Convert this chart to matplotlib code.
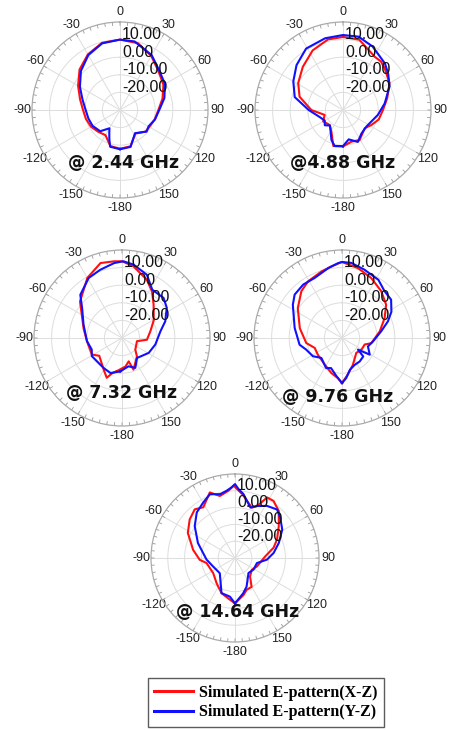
import numpy as np
import matplotlib
matplotlib.use('Agg')
import matplotlib.pyplot as plt
from matplotlib.lines import Line2D

W, H = 454, 730

# gain (dB), angle in degrees (0 = top, clockwise)
xz_244_ang = [-180, -165, -150, -135, -120, -105, -90, -75, -60, -45, -30, -15, 0, 15, 30, 45, 60, 75, 90, 105, 120, 130, 147, 164]
xz_244_db = [-8, -8.8, -13.5, -12.5, -11, -10, -9, -6.5, -2.5, 2.5, 6.5, 9.5, 10, 9.3, 5.5, 1, -1.5, -5, -8.2, -9.5, -10.8, -11, -14, -8.5]
yz_244_ang = [-180, -165, -160, -155, -150, -137, -120, -105, -90, -75, -60, -45, -30, -15, 0, 12, 30, 45, 60, 75, 90, 105, 120, 129, 147, 164]
yz_244_db = [-7.7, -8.4, -12.3, -15.6, -18, -13.5, -12, -11.4, -10.5, -8, -3.7, 1.4, 6, 9.2, 10, 9.8, 6, 1.6, -0.5, -3.9, -7.7, -9.4, -11.3, -10.5, -14.3, -8.2]

xz_488_ang = [-180, -165, -152, -138, -120, -105, -90, -73, -59, -43, -27, -12, 0, 13, 31, 38, 45, 60, 75, 90, 105, 118, 130, 151, 165]
xz_488_db = [-9.3, -8.8, -16, -18.6, -17, -19.2, -12, -4.2, -0.3, 3.5, 8, 11, 11.5, 11, 5.2, 5.0, 3.5, 0.5, -4, -7.3, -9, -11.8, -13.9, -10.5, -11.4]
yz_488_ang = [-180, -167, -159, -140, -130, -120, -106, -90, -75, -60, -46, -31, -14, 0, 12, 25, 42, 51, 63, 81, 98, 125, 142, 155, 169]
yz_488_db = [-9.5, -9, -11.7, -18.5, -16.5, -18, -16, -10.5, -1.6, 2.6, 6.7, 10.7, 12, 12.6, 12.6, 9.8, 5.6, 3, -0.3, -6, -10, -13.7, -13, -10, -13]

xz_732_ang = [-171, -165, -159, -150, -128, -119, -95, -76, -49, -30, -16, -6, 0, 9, 23, 33, 43.5, 61, 77, 94, 102, 131, 141, 160, 164, 173]
xz_732_db = [-10.9, -9.5, -5.8, -9.2, -13.6, -10.5, -10, -7.5, 1.6, 9.4, 14.3, 13.8, 13.6, 11.3, 6, 1.4, -3.9, -9.4, -13.5, -15.8, -21.3, -20, -16.5, -10.9, -16.2, -13.7]
yz_732_ang = [-177, -162, -149, -121, -111, -95, -71, -53, -44, -29, -17.6, -6, 1, 9, 21.5, 32, 46, 56, 69, 80, 101, 119, 143, 156, 167]
yz_732_db = [-11, -9, -10, -10, -11.6, -10, -6.9, -1.6, 4.1, 9, 10.7, 12.8, 13.6, 12.2, 8.6, 2.4, 2.8, 0.7, -3.7, -7.8, -10.7, -12.6, -15.8, -11.4, -13.5]

xz_976_ang = [-180, -174, -163, -147, -125, -110, -98, -77, -56, -41, -31, -17, -8.5, 0, 13, 26, 40, 53, 65, 80, 100, 106, 121, 136, 158, 171]
xz_976_db = [-4.4, -7.1, -9.2, -12, -13.3, -13.5, -9.5, -5.4, 0.3, 5.2, 7.5, 9.6, 11.1, 13.2, 10.7, 7.9, 4.7, 1.4, -3.3, -8.2, -13.1, -16.6, -17.1, -18.3, -13.5, -9]
yz_976_ang = [-180, -172, -160, -152, -134, -122, -108, -99, -78, -56, -47.5, -36, -24.5, -11, -3, 0, 7, 18, 32, 42, 52, 62, 70, 80, 96, 108, 121, 126, 131, 143, 155, 166, 174]
yz_976_db = [-4.4, -8, -11.8, -10.7, -13.7, -10.5, -8.6, -5.6, -2.5, 3.7, 6.5, 7.5, 7.5, 10.5, 12.6, 13.2, 13, 10.9, 9, 6, 5.4, 1.8, -2.2, -7.3, -12.2, -14.5, -11.6, -18.8, -14, -13.3, -13.1, -11.4, -7.1]

xz_1464_ang = [-180, -170.5, -159, -144, -125, -100, -93, -79, -62, -49.6, -39.6, -32, -21, -13.7, -5.7, -1, 7, 18.4, 23, 28, 34, 43, 54, 66, 75, 87, 111, 125, 141, 150, 160, 167]
xz_1464_db = [-3, -5.6, -7.6, -11.4, -14.2, -12.8, -9, -4.6, 1.8, 5.4, 7.6, 5.6, 11.8, 8, 10.2, 13, 8, 1.6, 3.6, 10.8, 11, 8.2, 2.2, -2.6, -6.2, -12, -16, -17.8, -15.8, -10.2, -9.8, -7.4]
yz_1464_ang = [-180, -172.5, -159, -135, -111, -93, -68, -51.6, -40, -30, -21.5, -13, -7, -3, 0, 3, 7.5, 17, 23, 31.5, 41, 48, 59, 71, 82.5, 93, 103, 122, 138, 158, 167]
yz_1464_db = [-3, -6.8, -7.6, -17.2, -16, -13, -6.2, 0.6, 5.4, 8, 10.8, 9, 10.4, 12, 14, 11, 8.4, 1.4, 3.6, 6.4, 8.2, 6.2, 2.8, -2.4, -6.8, -11, -16.6, -17, -18, -11.6, -8.4]

freq_labels = ['@ 2.44 GHz', '@4.88 GHz', '@ 7.32 GHz', '@ 9.76 GHz', '@ 14.64 GHz']
ring_values = [10, 0, -10, -20]
ring_labels = ['10.00', '0.00', '-10.00', '-20.00']
theta_ticks = [0, 30, 60, 90, 120, 150, 180, 210, 240, 270, 300, 330]
theta_labels = ['0', '30', '60', '90', '120', '150', '-180', '-150', '-120', '-90', '-60', '-30']

patterns = [
    (xz_244_ang, xz_244_db, yz_244_ang, yz_244_db),
    (xz_488_ang, xz_488_db, yz_488_ang, yz_488_db),
    (xz_732_ang, xz_732_db, yz_732_ang, yz_732_db),
    (xz_976_ang, xz_976_db, yz_976_ang, yz_976_db),
    (xz_1464_ang, xz_1464_db, yz_1464_ang, yz_1464_db),
]

# pixel centre, radius of each polar plot and position of its frequency text
layout = [
    ((120, 110), 88, (124, 163)),
    ((343, 110), 88, (343, 163)),
    ((122, 338), 88, (122, 393)),
    ((342, 338), 88, (338, 397)),
    ((235, 558), 84, (238, 612)),
]


def closed(ang, db):
    a = np.deg2rad(np.r_[ang, ang[0] + 360])
    return a, np.r_[db, db[0]]


# little tick marks round the outer ring, every 5 degrees
tick_t = np.repeat(np.deg2rad(np.arange(0, 360, 5)), 3)
tick_r = np.tile([18.2, 20, np.nan], 72)

fig = plt.figure(figsize=(W / 100, H / 100), dpi=100)

for i, ((xa, xd, ya, yd), ((cx, cy), R, (tx, ty))) in enumerate(zip(patterns, layout)):
    ax = fig.add_axes([(cx - R) / W, 1 - (cy + R) / H, 2 * R / W, 2 * R / H], projection='polar')
    ax.set_theta_zero_location('N')
    ax.set_theta_direction(-1)
    ax.set_ylim(-30, 20)
    ax.set_yticks(ring_values)
    ax.set_yticklabels([])
    ax.set_xticks(np.deg2rad(theta_ticks))
    ax.set_xticklabels(theta_labels, fontsize=9, color='#222222', family='Liberation Sans')
    ax.tick_params(axis='x', length=0, pad=0)
    ax.grid(True, color='#dddddd', lw=0.7)
    ax.spines['polar'].set_color('#aaaaaa')
    ax.spines['polar'].set_linewidth(0.9)
    ax.plot(tick_t, tick_r, color='#999999', lw=0.6)

    t, r = closed(xa, xd)
    ax.plot(t, r, color='#ff1010', lw=1.5)
    t, r = closed(ya, yd)
    ax.plot(t, r, color='#1010ff', lw=1.5)

    for v, s in zip(ring_values, ring_labels):
        ax.annotate(s, xy=(0, v), xytext=(2, 5), textcoords='offset pixels',
                    ha='left', va='center', fontsize=11.5, family='Liberation Sans',
                    color='#111111', annotation_clip=False)

    fig.text(tx / W, 1 - ty / H, freq_labels[i],
             ha='center', va='center', fontsize=12.5, weight='bold', color='#111111')

handles = [Line2D([], [], color='#ff1010', lw=2.2), Line2D([], [], color='#1010ff', lw=2.2)]
leg = fig.legend(handles, ['Simulated E-pattern(X-Z)', 'Simulated E-pattern(Y-Z)'],
                 loc='center', bbox_to_anchor=(266 / W, 1 - 702.5 / H),
                 frameon=True, fancybox=False, edgecolor='#333333',
                 prop={'family': 'Liberation Serif', 'weight': 'bold', 'size': 11.5},
                 handlelength=2.4, borderpad=0.4, labelspacing=0.25, handletextpad=0.4)
leg.get_frame().set_linewidth(1.0)

fig.savefig('out.png', dpi=100)
